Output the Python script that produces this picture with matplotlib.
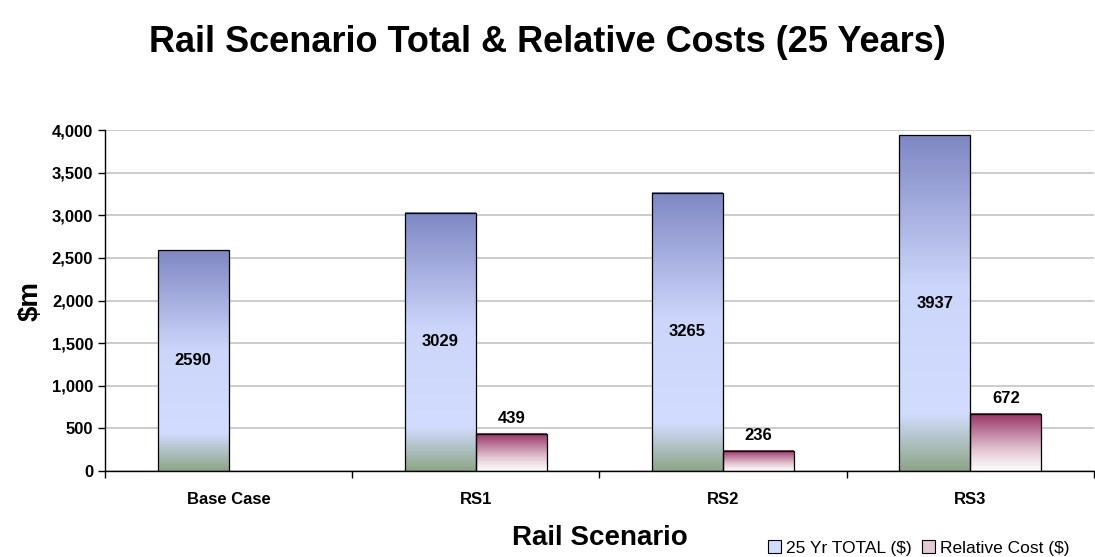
import numpy as np
import matplotlib
matplotlib.use("Agg")
import matplotlib.pyplot as plt
import matplotlib.ticker as ticker
from matplotlib.colors import LinearSegmentedColormap
from matplotlib.patches import Rectangle

plt.rcParams["font.family"] = ["Liberation Sans", "DejaVu Sans"]

# data
scenarios = ["Base Case", "RS1", "RS2", "RS3"]
total_25yr = [2590, 3029, 3265, 3937]
relative_cost = [0, 439, 236, 672]
series_names = ["25 Yr TOTAL ($)", "Relative Cost ($)"]

# gradients (bottom -> top)
cmap_blue = LinearSegmentedColormap.from_list(
    "blue", [(0.0, "#8DA587"), (0.17, "#D2DCFE"), (0.55, "#CCD6FA"), (1.0, "#7F87C3")])
cmap_red = LinearSegmentedColormap.from_list(
    "red", [(0.0, "#FFFFFF"), (0.35, "#E4C8D4"), (1.0, "#983265")])
grad = np.linspace(0, 1, 256).reshape(-1, 1)

fig = plt.figure(figsize=(10.95, 5.57), dpi=100)
ax = fig.add_axes([0.0959, 0.1544, 0.9031, 0.6122])

x = np.arange(len(scenarios))
w = 0.287

bars1 = ax.bar(x - w / 2, total_25yr, w, facecolor="none", edgecolor="black", linewidth=0.9, zorder=3)
bars2 = ax.bar(x + w / 2, relative_cost, w, facecolor="none", edgecolor="black", linewidth=0.9, zorder=3)

for bars, cmap in ((bars1, cmap_blue), (bars2, cmap_red)):
    for b in bars:
        h = b.get_height()
        if h <= 0:
            b.set_visible(False)
            continue
        ax.imshow(grad, extent=(b.get_x(), b.get_x() + b.get_width(), 0, h),
                  origin="lower", aspect="auto", cmap=cmap, zorder=2)

# value labels
for b, v in zip(bars1, total_25yr):
    ax.text(b.get_x() + b.get_width() / 2, v / 2, f"{v}",
            ha="center", va="center", fontsize=12, fontweight="bold", zorder=4)
for b, v in zip(bars2, relative_cost):
    if v > 0:
        ax.text(b.get_x() + b.get_width() / 2, v + 90, f"{v}",
                ha="center", va="bottom", fontsize=12, fontweight="bold", zorder=4)

ax.set_xlim(-0.5, len(scenarios) - 0.5)
ax.set_ylim(0, 4000)
ax.yaxis.set_major_locator(ticker.MultipleLocator(500))
ax.yaxis.set_major_formatter(ticker.StrMethodFormatter("{x:,.0f}"))
ax.grid(axis="y", color="#C4C4C4", linewidth=1.2, zorder=0)
ax.set_axisbelow(True)

ax.set_xticks(x)
ax.set_xticklabels(scenarios, fontsize=12, fontweight="bold")
ax.tick_params(axis="x", length=0, pad=15)
ax.set_xticks(np.arange(len(scenarios) + 1) - 0.5, minor=True)
ax.tick_params(axis="x", which="minor", length=5, width=1)
for lbl in ax.get_yticklabels():
    lbl.set_fontweight("bold")
ax.tick_params(axis="y", labelsize=12, length=5, width=1)

for side in ("top", "right"):
    ax.spines[side].set_visible(False)
ax.spines["left"].set_linewidth(1)
ax.spines["bottom"].set_linewidth(1)

ax.set_ylabel("$m", fontsize=20, fontweight="bold", labelpad=6)
ax.set_xlabel("Rail Scenario", fontsize=20, fontweight="bold", labelpad=13)
fig.suptitle("Rail Scenario Total & Relative Costs (25 Years)", fontsize=26, fontweight="bold", y=0.955)

# legend
fig.legend([Rectangle((0, 0), 1, 1, facecolor="#D2DCFE", edgecolor="black", linewidth=0.8),
            Rectangle((0, 0), 1, 1, facecolor="#E4C8D4", edgecolor="black", linewidth=0.8)],
           series_names, loc="center right", bbox_to_anchor=(0.977, 0.016),
           ncol=2, frameon=False, fontsize=12.5, handlelength=0.75, handleheight=0.75,
           handletextpad=0.3, columnspacing=0.6, borderaxespad=0, borderpad=0)

fig.savefig("out.png", dpi=100)
